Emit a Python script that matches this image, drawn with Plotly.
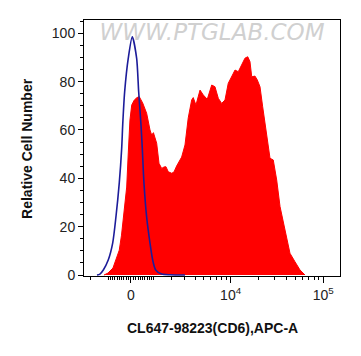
import numpy as np
import plotly.graph_objects as go

# Biexponential-like display scale (arcsinh), cofactor in fluorescence units
COFACTOR = 1700.0

def to_display(v):
    return np.arcsinh(np.asarray(v, dtype=float) / COFACTOR) / np.log(10)

# ---- data (x in display units along the APC-A axis, y = relative cell number) ----
sample_x = [-0.291, -0.248, -0.194, -0.162, -0.126, -0.102, -0.083, -0.065, -0.046, -0.029,
            -0.022, -0.011, 0.008, 0.036, 0.065, 0.089, 0.126, 0.169, 0.205, 0.223,
            0.242, 0.277, 0.302, 0.331, 0.356, 0.377, 0.402, 0.439, 0.463, 0.492,
            0.546, 0.582, 0.617, 0.654, 0.671, 0.700, 0.744, 0.779, 0.822, 0.870,
            0.905, 0.941, 0.977, 1.013, 1.048, 1.067, 1.121, 1.156, 1.193, 1.228,
            1.258, 1.282, 1.301, 1.336, 1.361, 1.390, 1.419, 1.462, 1.498, 1.533,
            1.570, 1.606, 1.659, 1.713, 1.767, 1.821, 1.875]
sample_y = [0.0, 0.8, 2.9, 6.2, 10.3, 16.5, 22.8, 29.8, 36.4, 50.5,
            55.9, 64.1, 70.3, 72.4, 73.4, 73.8, 71.2, 66.9, 60.0, 57.9,
            58.9, 54.5, 46.2, 44.1, 44.7, 44.8, 42.7, 42.1, 42.6, 45.1,
            48.8, 53.8, 65.0, 72.4, 73.4, 70.3, 76.5, 74.5, 72.7, 78.6,
            77.9, 73.1, 71.0, 72.4, 79.3, 80.7, 84.8, 84.1, 86.9, 89.7,
            90.3, 88.3, 82.0, 82.3, 80.7, 77.9, 69.6, 58.6, 48.3, 47.6,
            39.3, 28.3, 18.6, 9.0, 5.5, 2.1, 0.0]

control_x = [-0.366, -0.334, -0.298, -0.245, -0.197, -0.162, -0.126, -0.100, -0.089, -0.068,
             -0.029, 0.014, 0.061, 0.083, 0.108, 0.122, 0.140, 0.169, 0.205, 0.234,
             0.266, 0.331, 0.420, 0.582]
control_y = [0.0, 0.4, 2.1, 6.2, 13.2, 24.0, 38.1, 52.5, 62.1, 75.8,
             89.7, 98.6, 89.7, 75.8, 62.1, 52.5, 38.1, 24.0, 13.2, 6.2,
             2.1, 0.4, 0.1, 0.0]

x_major_vals = [0, 1e4, 1e5]
x_major_text = ["0", "10<sup>4</sup>", "10<sup>5</sup>"]
x_minor_vals = ([-2000] + list(range(-1000, 0, 100)) + list(range(100, 1001, 100))
                + list(range(2000, 10000, 1000)) + list(range(20000, 100000, 10000)))
y_ticks = [0, 20, 40, 60, 80, 100]

x_title = "CL647-98223(CD6),APC-A"
y_title = "Relative Cell Number"
watermark = "WWW.PTGLAB.COM"

FONT = "Liberation Sans, Arial, sans-serif"

fig = go.Figure()

# watermark (under the data)
fig.add_trace(go.Scatter(
    x=[0.873], y=[99.7], mode="text", text=[watermark],
    textfont=dict(family="DejaVu Sans", size=23, color="#d0d0d0", style="italic"),
    hoverinfo="skip", showlegend=False, cliponaxis=False))

fig.add_trace(go.Scatter(
    x=sample_x, y=sample_y, mode="lines", fill="tozeroy",
    fillcolor="#ff0000", line=dict(color="#ff0000", width=1),
    showlegend=False))

fig.add_trace(go.Scatter(
    x=control_x, y=control_y, mode="lines",
    line=dict(color="#1c1c9a", width=1.6, shape="spline", smoothing=0.7),
    showlegend=False))

fig.update_layout(
    width=361, height=356,
    margin=dict(l=84, r=21, t=20, b=80),
    paper_bgcolor="white", plot_bgcolor="white",
    font=dict(family=FONT, size=14, color="#222222"),
    showlegend=False,
)

fig.update_xaxes(
    range=[-0.506, 2.252],
    tickmode="array",
    tickvals=list(to_display(x_major_vals)),
    ticktext=x_major_text,
    ticks="outside", ticklen=6, tickwidth=1.2, tickcolor="black",
    showline=True, linecolor="black", linewidth=1, mirror=True,
    showgrid=False, zeroline=False,
    tickfont=dict(family=FONT, size=14, color="#222222"),
    minor=dict(tickmode="array", tickvals=list(to_display(x_minor_vals)),
               ticks="outside", ticklen=3, tickcolor="black", tickwidth=1, showgrid=False),
)

fig.update_yaxes(
    range=[-0.4, 105.5],
    tickmode="array", tickvals=y_ticks,
    ticks="outside", ticklen=5, tickwidth=1.2, tickcolor="black",
    showline=True, linecolor="black", linewidth=1, mirror=True,
    showgrid=False, zeroline=False,
    tickfont=dict(family=FONT, size=14, color="#222222"),
    minor=dict(tick0=0, dtick=5, ticks="outside", ticklen=3, tickcolor="black",
               tickwidth=1, showgrid=False),
)

fig.add_annotation(
    text=f"<b>{x_title}</b>", xref="paper", yref="paper",
    x=0.5, y=-0.203, xanchor="center", yanchor="middle", showarrow=False,
    font=dict(family=FONT, size=14, color="#111111"))

fig.add_annotation(
    text=f"<b>{y_title}</b>", xref="paper", yref="paper",
    x=-0.223, y=0.5, xanchor="center", yanchor="middle", textangle=-90,
    showarrow=False, font=dict(family=FONT, size=14, color="#111111"))

fig.write_html(
    "out.html",
    config={"displayModeBar": False},
    post_script="document.body.style.margin='0px';document.body.style.overflow='hidden';",
)
